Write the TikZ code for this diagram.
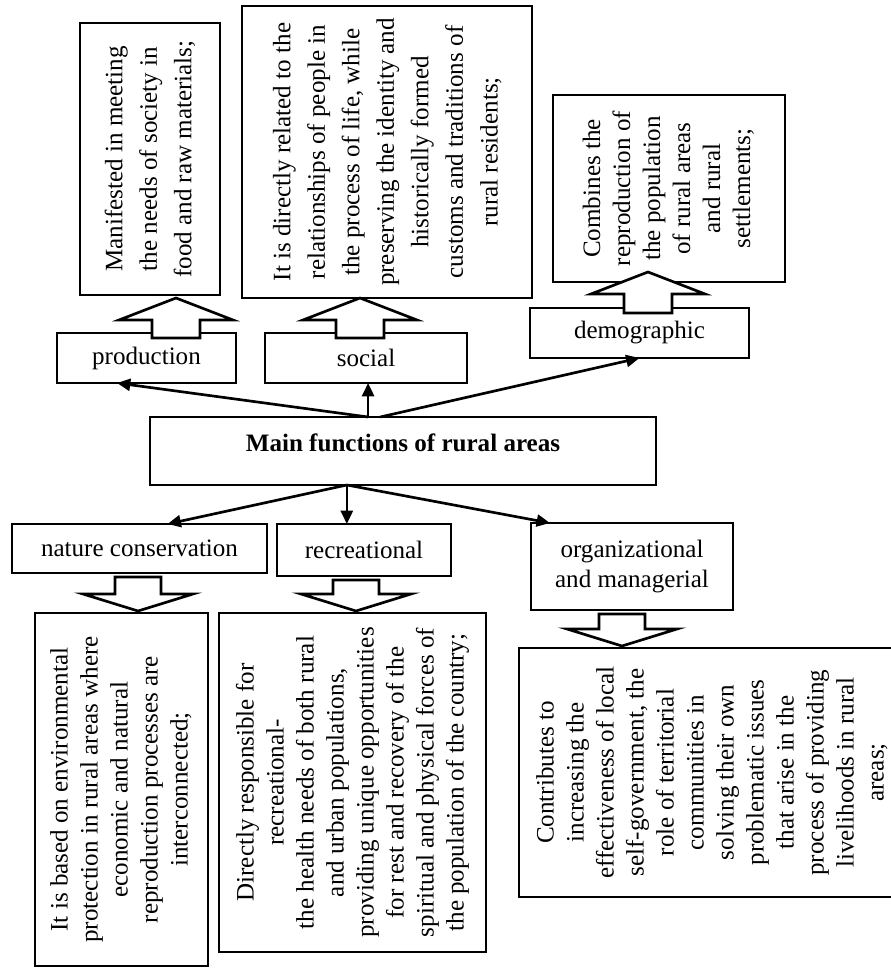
\documentclass[tikz,border=0pt]{standalone}
\usepackage{fontspec}
\setmainfont{Liberation Serif}
\usepackage{graphicx}
\usetikzlibrary{arrows.meta,calc}
\tikzset{
    funcbox/.style={draw, line width=2pt, inner sep=0pt, outer sep=0pt, align=center},
    descbox/.style={draw, line width=2pt, inner sep=0pt, outer sep=0pt},
    link/.style={-{Triangle[length=10pt, width=9pt]}, line width=2pt},
    hollow/.style={draw, fill=white, line width=2pt, line join=miter}
}
% rotated text, first line on the left
\newcommand{\vlines}[2]{\rotatebox{90}{\fontsize{18.8}{#1}\selectfont\begin{tabular}{@{}c@{}}#2\end{tabular}}}
% hollow block arrows: [#1] = tip offset, #2 = x, #3 = from node, #4 = to node
\newcommand{\blockup}[4][0]{%
    \coordinate (bx) at (#2,0);
    \coordinate (bt) at ($(bx |- #4.south)+(0,#1)$);
    \filldraw[hollow] ($(bx |- #3.north)+(-24,5)$) -- ($(bt)+(-24,22)$) -- ($(bt)+(-57,22)$) -- (bt)
        -- ($(bt)+(57,22)$) -- ($(bt)+(24,22)$) -- ($(bx |- #3.north)+(24,5)$) -- cycle;}
\newcommand{\blockdown}[4][0]{%
    \coordinate (bx) at (#2,0);
    \coordinate (bt) at ($(bx |- #4.north)+(0,#1-2)$);
    \filldraw[hollow] ($(bx |- #3.south)+(-23,4)$) -- ($(bt)+(-23,-17)$) -- ($(bt)+(-55,-17)$) -- (bt)
        -- ($(bt)+(55,-17)$) -- ($(bt)+(23,-17)$) -- ($(bx |- #3.south)+(23,4)$) -- cycle;}

\begin{document}
\begin{tikzpicture}[x=0.75pt, y=-0.75pt, font=\fontsize{18.8}{22.5}\selectfont]
    \useasboundingbox (0,0) rectangle (890,969);

    % upper functions
    \node[funcbox, minimum width=134.25pt, minimum height=37.5pt] (prod) at (146.5,358) {production};
    \node[funcbox, minimum width=151.5pt, minimum height=37.5pt] (soc) at (366,358) {social};
    \node[funcbox, minimum width=164.25pt, minimum height=37.5pt] (dem) at (639.5,333) {demographic};

    \node[descbox, minimum width=105pt, minimum height=204pt] (prodD) at (150,159) {\vlines{25.9pt}{Manifested in meeting\\ the needs of society in\\ food and raw materials;}};
    \node[descbox, minimum width=217.5pt, minimum height=219pt] (socD) at (387,152) {\vlines{25.9pt}{It is directly related to the\\ relationships of people in\\ the process of life, while\\ preserving the identity and\\ historically formed\\ customs and traditions of\\ rural residents;}};
    \node[descbox, minimum width=174pt, minimum height=140.25pt] (demD) at (669,188.5) {\vlines{22.5pt}{Combines the\\ reproduction of\\ the population\\ of rural areas\\ and rural\\ settlements;}};

    % main box
    \node[funcbox, minimum width=379.5pt, minimum height=51pt, font=\fontsize{18.8}{22.5}\selectfont\bfseries, text height=12pt, text depth=12pt] (main) at (403,451) {Main functions of rural areas};

    % lower functions
    \node[funcbox, minimum width=191.25pt, minimum height=36.75pt] (nat) at (139.5,548.5) {nature conservation};
    \node[funcbox, minimum width=130.5pt, minimum height=39pt] (rec) at (364,550) {recreational};
    \node[funcbox, minimum width=151.5pt, minimum height=65.25pt] (org) at (632,566.5) {organizational\\ and managerial};

    \node[descbox, minimum width=129.75pt, minimum height=264.75pt] (natD) at (121.5,789.5) {\vlines{22.5pt}{It is based on environmental\\ protection in rural areas where\\ economic and natural\\ reproduction processes are\\ interconnected;}};
    \node[descbox, minimum width=200.25pt, minimum height=254.25pt] (recD) at (352.5,782.5) {\vlines{22.5pt}{Directly responsible for\\ recreational-\\ the health needs of both rural\\ and urban populations,\\ providing unique opportunities\\ for rest and recovery of the\\ spiritual and physical forces of\\ the population of the country;}};
    \node[descbox, minimum width=290.25pt, minimum height=186.75pt] (orgD) at (712.5,772.5) {\vlines{22.5pt}{Contributes to\\ increasing the\\ effectiveness of local\\ self-government, the\\ role of territorial\\ communities in\\ solving their own\\ problematic issues\\ that arise in the\\ process of providing\\ livelihoods in rural\\ areas;}};

    % block arrows
    \blockup[3]{176}{prod}{prodD}
    \blockup{360}{soc}{socD}
    \blockup[-10]{648}{dem}{demD}
    \blockdown{138}{nat}{natD}
    \blockdown{356}{rec}{recD}
    \blockdown{622}{org}{orgD}

    % connectors
    \coordinate (mA) at ($(main.north west)!0.431!(main.north east)$);
    \coordinate (mB) at ($(main.north west)!0.455!(main.north east)$);
    \coordinate (mC) at ($(main.south west)!0.389!(main.south east)$);
    \draw[link] (mA) -- ($(prod.south west)!0.335!(prod.south east)$);
    \draw[link] (mA) -- (soc.south -| mA);
    \draw[link] (mB) -- (dem.south);
    \draw[link] (mC) -- ($(nat.north west)!0.61!(nat.north east)$);
    \draw[link] (mC) -- (rec.north -| mC);
    \draw[link] (mC) -- ($(org.north west)!0.094!(org.north east)$);
\end{tikzpicture}
\end{document}
